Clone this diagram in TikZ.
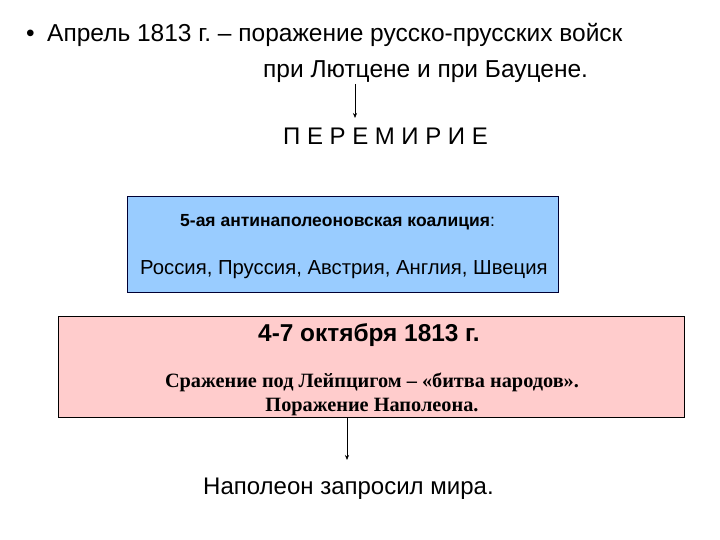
\documentclass[tikz,border=0pt]{standalone}
\usepackage{fontspec}
\setmainfont{Liberation Sans}
\newfontfamily\serifru{Liberation Serif}
\usetikzlibrary{arrows.meta}
\definecolor{boxblue}{HTML}{99CCFF}
\definecolor{boxpink}{HTML}{FFCCCC}
\definecolor{navy}{HTML}{000033}
\tikzset{
  txt/.style={inner sep=0pt, anchor=base west},
  arr/.style={draw, line width=0.6pt, -{Stealth[length=5pt,width=4pt]}},
}
\frenchspacing
\newcommand{\gp}{\hspace{6.6pt}}
\begin{document}
\begin{tikzpicture}[x=1pt,y=-1pt]
\useasboundingbox (0,0) rectangle (720,540);
\node[txt, font=\fontsize{24.5}{28}\selectfont] (bul) at (26,42) {•};
\node[txt, font=\fontsize{24.5}{28}\selectfont] (l1) at (47,42) {Апрель 1813 г. – поражение русско-прусских войск};
\node[txt, font=\fontsize{24.5}{28}\selectfont] (l2) at (263,78) {при Лютцене и при Бауцене.};
\node[txt, font=\fontsize{24}{28}\selectfont] (per) at (283,145) {П\gp Е\gp Р\gp Е\gp М\gp И\gp Р\gp И\gp Е};
\coordinate (a1s) at (355,84);
\coordinate (a1e) at (355,118);
\draw[arr] (a1s) -- (a1e);
% blue box
\node[draw=navy, line width=0.8pt, fill=boxblue, minimum width=431pt, minimum height=96pt, anchor=north west, inner sep=0pt] (blue) at (127,196) {};
\node[txt, font=\bfseries\fontsize{17.5}{20}\selectfont] (coal) at (180,226) {5-ая антинаполеоновская коалиция\textmd{:}};
\node[txt, font=\fontsize{20.3}{24}\selectfont] (cnt) at (140,274) {Россия, Пруссия, Австрия, Англия, Швеция};
% pink box
\node[draw=black, line width=0.8pt, fill=boxpink, minimum width=626pt, minimum height=101pt, anchor=north west, inner sep=0pt] (pink) at (58,316) {};
\node[txt, font=\bfseries\fontsize{24.4}{28}\selectfont] (date) at (258,341) {4-7 октября 1813 г.};
\node[font=\serifru\bfseries\fontsize{20.3}{24}\selectfont, align=center, inner sep=0pt, anchor=base] (battle) at (372,411) {Сражение под Лейпцигом – «битва народов».\\Поражение Наполеона.};
\coordinate (a2e) at (347,460);
\draw[arr] (pink.south -| a2e) -- (a2e);
\node[txt, font=\fontsize{24}{28}\selectfont] (peace) at (203,494) {Наполеон запросил мира.};
\end{tikzpicture}
\end{document}
